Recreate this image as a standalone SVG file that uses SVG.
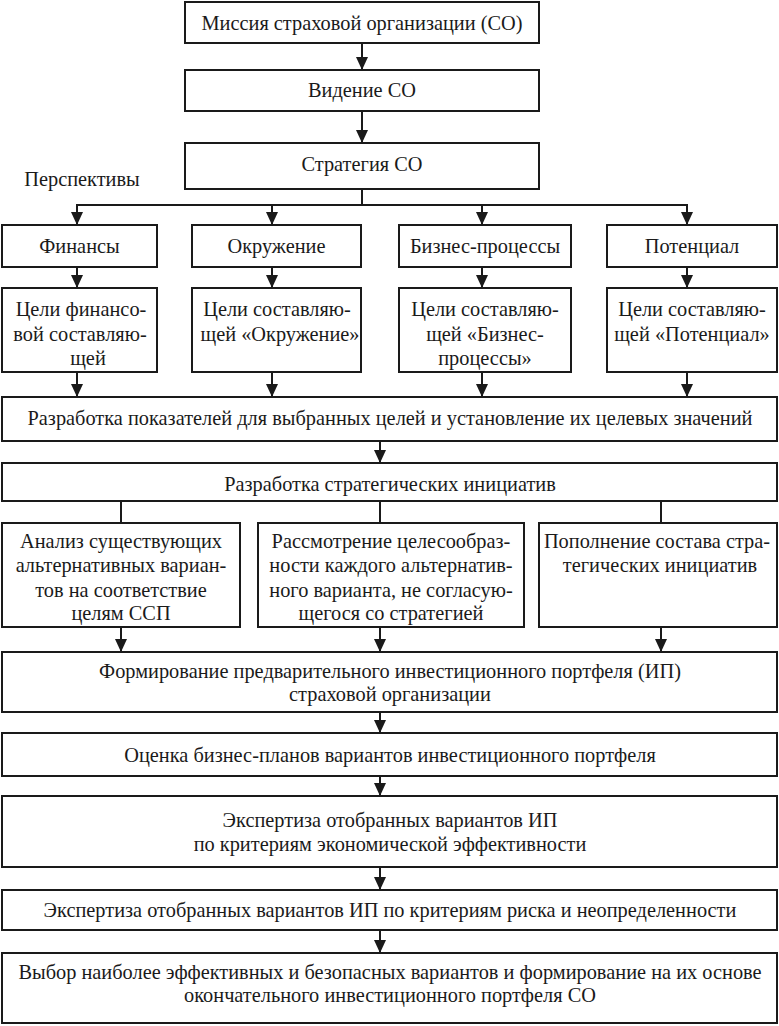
<svg xmlns="http://www.w3.org/2000/svg" width="779" height="1026" viewBox="0 0 779 1026">
<defs>
<marker id="arr" markerUnits="userSpaceOnUse" markerWidth="14" markerHeight="14" refX="13" refY="6" orient="auto">
<path d="M0,0 L13,6 L0,12 z" fill="#1a1a1a"/>
</marker>
<style>
rect{fill:#fff;stroke:#1a1a1a;stroke-width:2}
text{font-family:"Liberation Serif","Times New Roman",serif;font-size:22px;fill:#1a1a1a;text-anchor:middle;transform-box:fill-box;transform-origin:center;transform:scaleX(0.925)}
.c line{stroke:#1a1a1a;stroke-width:2}
.c .a{marker-end:url(#arr)}
</style>
</defs>
<rect x="0" y="0" width="779" height="1026" style="fill:#fff;stroke:none"/>
<g class="c" id="connectors">
<line class="a" x1="362" y1="43" x2="362" y2="70"/>
<line class="a" x1="362" y1="111" x2="362" y2="143"/>
<line x1="362" y1="189" x2="362" y2="205"/>
<line x1="76" y1="205" x2="688" y2="205"/>
<line class="a" x1="77" y1="204" x2="77" y2="225"/>
<line class="a" x1="272" y1="204" x2="272" y2="225"/>
<line class="a" x1="482" y1="204" x2="482" y2="225"/>
<line class="a" x1="687" y1="204" x2="687" y2="225"/>
<line class="a" x1="77" y1="267" x2="77" y2="288"/>
<line class="a" x1="272" y1="267" x2="272" y2="288"/>
<line class="a" x1="482" y1="267" x2="482" y2="288"/>
<line class="a" x1="687" y1="267" x2="687" y2="288"/>
<line class="a" x1="77" y1="372" x2="77" y2="397"/>
<line class="a" x1="272" y1="372" x2="272" y2="397"/>
<line class="a" x1="482" y1="372" x2="482" y2="397"/>
<line class="a" x1="687" y1="372" x2="687" y2="397"/>
<line class="a" x1="380" y1="441" x2="380" y2="463"/>
<line x1="121" y1="501" x2="121" y2="523"/>
<line x1="380" y1="501" x2="380" y2="523"/>
<line x1="661" y1="501" x2="661" y2="523"/>
<line class="a" x1="121" y1="627" x2="121" y2="652"/>
<line class="a" x1="380" y1="627" x2="380" y2="652"/>
<line class="a" x1="661" y1="627" x2="661" y2="652"/>
<line class="a" x1="380" y1="712" x2="380" y2="733"/>
<line class="a" x1="380" y1="776" x2="380" y2="796"/>
<line class="a" x1="380" y1="867" x2="380" y2="890"/>
<line class="a" x1="380" y1="930" x2="380" y2="953"/>
</g>
<g id="mission"><rect x="185" y="2" width="354" height="41"/><text x="362" y="30">Миссия страховой организации (СО)</text></g>
<g id="vision"><rect x="185" y="70" width="354" height="41"/><text x="362" y="97">Видение СО</text></g>
<g id="strategy"><rect x="185" y="143" width="354" height="46"/><text x="362" y="171">Стратегия СО</text></g>
<g id="perspectives-label"><text x="82" y="186">Перспективы</text></g>
<g id="finance"><rect x="2" y="225" width="155" height="42"/><text x="79.5" y="253">Финансы</text></g>
<g id="environment"><rect x="192" y="225" width="169" height="42"/><text x="276.5" y="253">Окружение</text></g>
<g id="business"><rect x="399" y="225" width="172" height="42"/><text x="485" y="253">Бизнес-процессы</text></g>
<g id="potential"><rect x="607" y="225" width="170" height="42"/><text x="692" y="253">Потенциал</text></g>
<g id="goal-finance"><rect x="2" y="288" width="155" height="84"/><text x="81" y="316">Цели финансо-</text><text x="80" y="341">вой составляю-</text><text x="88" y="365">щей</text></g>
<g id="goal-environment"><rect x="192" y="288" width="169" height="84"/><text x="277" y="316">Цели составляю-</text><text x="280" y="341">щей «Окружение»</text></g>
<g id="goal-business"><rect x="399" y="288" width="172" height="84"/><text x="485" y="316">Цели составляю-</text><text x="485" y="341">щей «Бизнес-</text><text x="485" y="365">процессы»</text></g>
<g id="goal-potential"><rect x="607" y="288" width="170" height="84"/><text x="692" y="316">Цели составляю-</text><text x="692" y="341">щей «Потенциал»</text></g>
<g id="indicators"><rect x="2" y="397" width="775" height="44"/><text x="390" y="425">Разработка показателей для выбранных целей и установление их целевых значений</text></g>
<g id="initiatives"><rect x="2" y="463" width="775" height="38"/><text x="390" y="491">Разработка стратегических инициатив</text></g>
<g id="analysis"><rect x="2" y="523" width="238" height="104"/><text x="121" y="548">Анализ существующих</text><text x="121" y="572">альтернативных вариан-</text><text x="121" y="597">тов на соответствие</text><text x="121" y="620">целям ССП</text></g>
<g id="review"><rect x="258" y="523" width="266" height="104"/><text x="391" y="548">Рассмотрение целесообраз-</text><text x="391" y="572">ности каждого альтернатив-</text><text x="391" y="597">ного варианта, не согласую-</text><text x="391" y="620">щегося со стратегией</text></g>
<g id="replenish"><rect x="539" y="523" width="238" height="104"/><text x="657" y="548">Пополнение состава стра-</text><text x="660" y="572">тегических инициатив</text></g>
<g id="preliminary"><rect x="2" y="652" width="775" height="60"/><text x="390" y="678">Формирование предварительного инвестиционного портфеля (ИП)</text><text x="390" y="701">страховой организации</text></g>
<g id="evaluation"><rect x="2" y="733" width="775" height="43"/><text x="390" y="762">Оценка бизнес-планов вариантов инвестиционного портфеля</text></g>
<g id="expertise-eff"><rect x="2" y="796" width="775" height="71"/><text x="390" y="827">Экспертиза отобранных вариантов ИП</text><text x="390" y="851">по критериям экономической эффективности</text></g>
<g id="expertise-risk"><rect x="2" y="890" width="775" height="40"/><text x="390" y="917">Экспертиза отобранных вариантов ИП по критериям риска и неопределенности</text></g>
<g id="final"><rect x="2" y="953" width="775" height="70"/><text x="390" y="979">Выбор наиболее эффективных и безопасных вариантов и формирование на их основе</text><text x="390" y="1002">окончательного инвестиционного портфеля СО</text></g>
</svg>
